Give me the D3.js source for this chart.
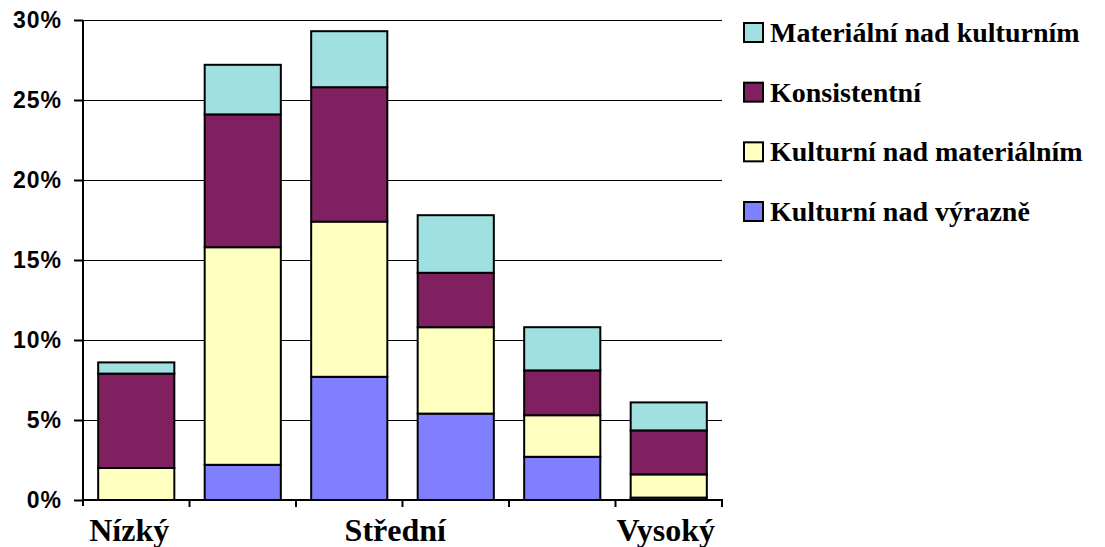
<!DOCTYPE html>
<html>
<head>
<meta charset="utf-8">
<script src="https://cdn.jsdelivr.net/npm/d3@7"></script>
<style>
  html, body { margin: 0; padding: 0; background: #fff; }
  svg { display: block; }
</style>
</head>
<body>
<svg id="chart" width="1105" height="547"></svg>
<script>
// ---- data ----
const categories = ["c1", "c2", "c3", "c4", "c5", "c6"];
const categoryLabels = ["Nízký", "", "Střední", "", "", "Vysoký"];
const seriesNames = ["Kulturní nad výrazně", "Kulturní nad materiálním", "Konsistentní", "Materiální nad kulturním"];
const kulturniVyrazne   = [0.0, 2.2, 7.7, 5.4, 2.7, 0.15];
const kulturniMaterial  = [2.0, 13.6, 9.7, 5.4, 2.6, 1.45];
const konsistentni      = [5.9, 8.3, 8.4, 3.4, 2.8, 2.75];
const materialKulturni  = [0.7, 3.1, 3.5, 3.6, 2.7, 1.75];
const yTicks = [0, 5, 10, 15, 20, 25, 30];

// ---- styles / layout ----
const colors = ["#8080FF", "#FFFFC0", "#802060", "#A0E0E0"];
const legendOrder = [3, 2, 1, 0];
const labelDx = [-7, 0, 46, 0, 0, -3];

const svg = d3.select("#chart");
const pLeft = 83, pRight = 722, pTop = 20, pBottom = 500;

const x = d3.scaleBand().domain(categories).range([pLeft, pRight])
  .paddingInner(0.285).paddingOuter(0.1425);
const xStep = d3.scaleBand().domain(categories).range([pLeft, pRight]);
const y = d3.scaleLinear().domain([0, 30]).range([pBottom, pTop]);

const seriesArrays = [kulturniVyrazne, kulturniMaterial, konsistentni, materialKulturni];
const rows = categories.map((c, i) => {
  const r = { cat: c };
  seriesNames.forEach((s, j) => r[s] = seriesArrays[j][i]);
  return r;
});
const stacked = d3.stack().keys(seriesNames)(rows);

// gridlines
svg.append("g").selectAll("line").data(yTicks.filter(t => t > 0)).join("line")
  .attr("x1", pLeft).attr("x2", pRight)
  .attr("y1", d => Math.round(y(d)) + 0.5).attr("y2", d => Math.round(y(d)) + 0.5)
  .attr("stroke", "#000").attr("stroke-width", 1);

// bars
svg.append("g").selectAll("g").data(stacked).join("g")
  .attr("fill", (d, i) => colors[i])
  .selectAll("rect").data(d => d).join("rect")
  .attr("x", d => x(d.data.cat))
  .attr("width", x.bandwidth())
  .attr("y", d => y(d[1]))
  .attr("height", d => y(d[0]) - y(d[1]))
  .attr("stroke", "#000").attr("stroke-width", 2);

// y axis
const yAxis = svg.append("g").attr("transform", `translate(${pLeft},0)`)
  .call(d3.axisLeft(y).tickValues(yTicks).tickFormat(d => d + "%").tickSize(9).tickPadding(12));
yAxis.select(".domain").attr("stroke", "#000").attr("stroke-width", 2)
  .attr("d", `M0,${pTop}V${pBottom + 6}`);
yAxis.selectAll(".tick line").attr("stroke", "#000").attr("stroke-width", 2);
yAxis.selectAll(".tick text")
  .attr("font-family", "'Liberation Sans', Arial, sans-serif")
  .attr("font-weight", "bold").attr("font-size", 23).attr("letter-spacing", 1)
  .attr("fill", "#000");

// x axis
const xg = svg.append("g");
xg.append("line").attr("x1", pLeft - 1).attr("x2", pRight + 1).attr("y1", pBottom).attr("y2", pBottom)
  .attr("stroke", "#000").attr("stroke-width", 2);
xg.selectAll("line.tk").data(categories).join("line").attr("class", "tk")
  .attr("x1", d => xStep(d) + xStep.bandwidth()).attr("x2", d => xStep(d) + xStep.bandwidth())
  .attr("y1", pBottom).attr("y2", pBottom + 7)
  .attr("stroke", "#000").attr("stroke-width", 2);
xg.selectAll("text").data(categories).join("text")
  .attr("x", (d, i) => x(d) + x.bandwidth() / 2 + labelDx[i])
  .attr("y", 541)
  .attr("text-anchor", "middle")
  .attr("font-family", "'Liberation Serif', 'Times New Roman', serif")
  .attr("font-weight", "bold").attr("font-size", 32).attr("fill", "#000")
  .text((d, i) => categoryLabels[i]);

// legend
const lg = svg.append("g");
const legendY = d3.scalePoint().domain(legendOrder).range([32, 211]);
legendOrder.forEach(si => {
  const cy = legendY(si);
  lg.append("rect").attr("x", 744).attr("y", cy - 9).attr("width", 19).attr("height", 19)
    .attr("fill", colors[si]).attr("stroke", "#000").attr("stroke-width", 2);
  lg.append("text").attr("x", 770).attr("y", cy + 10)
    .attr("font-family", "'Liberation Serif', 'Times New Roman', serif")
    .attr("font-weight", "bold").attr("font-size", 28).attr("fill", "#000")
    .text(seriesNames[si]);
});
</script>
</body>
</html>
